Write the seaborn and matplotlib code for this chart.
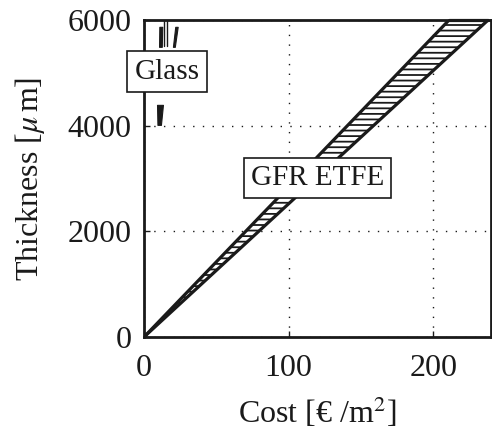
import matplotlib
matplotlib.use("Agg")
import matplotlib.pyplot as plt
import numpy as np
import pandas as pd
import seaborn as sns

# GFR ETFE band: cost range at each thickness
etfe_thickness = [0, 6000]
etfe_cost_low = [0, 211]
etfe_cost_high = [0, 238]

# Glass pieces (cost ranges over thickness spans)
glass_pieces = [
    {"thickness": [4015, 4394], "cost_left": [9.3, 9.0], "cost_right": [11.7, 13.1]},
    {"thickness": [5492, 5871], "cost_left": [10.4, 10.6], "cost_right": [12.3, 12.6]},
    {"thickness": [5492, 5871], "cost_left": [20.0, 21.6], "cost_right": [21.3, 23.3]},
]
glass_marks_cost = [13.9, 15.9]
glass_marks_thickness = [5500, 6000]

xticks = [0, 100, 200]
yticks = [0, 2000, 4000, 6000]

sns.set_style("ticks")
plt.rcParams["font.family"] = ["Liberation Serif", "DejaVu Serif"]
plt.rcParams["mathtext.fontset"] = "stix"
plt.rcParams["hatch.linewidth"] = 1.3

FS = 23
INK = "#1a1a1a"

fig = plt.figure(figsize=(4.92, 4.33), dpi=100)
ax = fig.add_axes([0.2927, 0.2217, 0.7053, 0.7321])

# Hatched ETFE band
ax.fill_betweenx(etfe_thickness, etfe_cost_low, etfe_cost_high,
                 facecolor="white", edgecolor=INK, hatch="---",
                 linewidth=0, zorder=2)
edges = pd.DataFrame({
    "cost": etfe_cost_low + etfe_cost_high,
    "thickness": etfe_thickness + etfe_thickness,
    "edge": ["low"] * 2 + ["high"] * 2,
})
sns.lineplot(data=edges, x="cost", y="thickness", units="edge", estimator=None,
             color=INK, linewidth=2.3, ax=ax, zorder=3, sort=False)
ax.plot([etfe_cost_low[-1], etfe_cost_high[-1]], [6000, 6000],
        color=INK, linewidth=2.3, zorder=3, clip_on=False)

# Glass pieces
for p in glass_pieces:
    ax.fill_betweenx(p["thickness"], p["cost_left"], p["cost_right"],
                     facecolor=INK, edgecolor=INK, linewidth=0.8, zorder=3)
for c in glass_marks_cost:
    ax.plot([c, c], glass_marks_thickness, color=INK, linewidth=1.0, zorder=3)

ax.set_xlim(0, 240)
ax.set_ylim(0, 6000)
ax.set_xticks(xticks)
ax.set_yticks(yticks)
ax.grid(True, color=INK, linestyle=(0, (1, 6)), linewidth=1.0)
ax.tick_params(direction="in", length=4, width=1, labelsize=FS, colors=INK)
ax.tick_params(axis="x", pad=12)
ax.tick_params(axis="y", pad=9)
for s in ax.spines.values():
    s.set_linewidth(2.0)
    s.set_color(INK)

ax.set_xlabel("Cost [\u20ac /m$^2$]", fontsize=FS, color=INK, labelpad=9)
ax.set_ylabel("Thickness [$\\mu\\,$m]", fontsize=FS, color=INK, labelpad=15)

box = dict(boxstyle="square,pad=0.25", facecolor="white", edgecolor=INK, linewidth=1.2)
ax.text(16, 5020, "Glass", fontsize=FS - 2, ha="center", va="center", bbox=box,
        zorder=5, clip_on=False, color=INK)
ax.text(120, 3010, "GFR ETFE", fontsize=FS - 2, ha="center", va="center", bbox=box,
        zorder=5, color=INK)

fig.savefig("out.png", dpi=100)
